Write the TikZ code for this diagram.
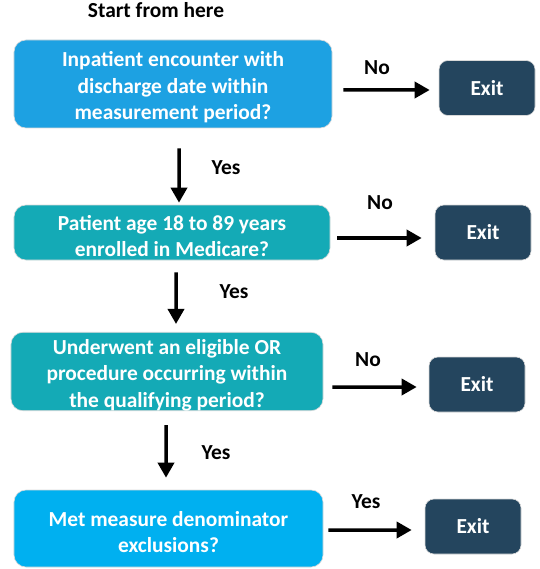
\documentclass[tikz,border=0pt]{standalone}
\usepackage{fontspec}
\setmainfont{Carlito}
\usetikzlibrary{arrows.meta}
\definecolor{boxA}{RGB}{29,161,226}
\definecolor{boxB}{RGB}{20,170,182}
\definecolor{boxC}{RGB}{0,176,240}
\definecolor{exitc}{RGB}{36,69,94}
\newcommand{\tallline}{\rule{0pt}{22bp}}
\tikzset{
  x=1bp, y=-1bp,
  qbox/.style={rectangle, rounded corners=12bp, draw=white!85!black, line width=0.6bp,
    text=white, align=center, inner sep=0pt,
    font=\bfseries\fontsize{21.5}{26.5}\selectfont},
  exitbox/.style={qbox, fill=exitc, minimum width=96bp, minimum height=55bp, rounded corners=9bp},
  lbl/.style={font=\bfseries\fontsize{21.5}{24}\selectfont, text=black, inner sep=0pt},
  arr/.style={line width=3.5bp, -{Triangle[length=15bp,width=16bp]}}
}
\begin{document}
\begin{tikzpicture}
\useasboundingbox (0,0) rectangle (540,569);
\node[lbl] (start) at (156,10) {Start from here};

\node[qbox, fill=boxA, minimum width=318bp, minimum height=88bp] (b1) at (173,84)
  {\tallline Inpatient encounter with\\discharge date within\\measurement period?};
\node[exitbox] (e1) at (487,88) {Exit};

\node[qbox, fill=boxB, minimum width=316bp, minimum height=55bp] (b2) at (172,232.5)
  {\tallline Patient age 18 to 89 years\\enrolled in Medicare?};
\node[exitbox] (e2) at (483,232.5) {Exit};

\node[qbox, fill=boxB, minimum width=312bp, minimum height=77bp] (b3) at (167,371.5)
  {\tallline Underwent an eligible OR\\procedure occurring within\\the qualifying period?};
\node[exitbox] (e3) at (477,384.5) {Exit};

\node[qbox, fill=boxC, minimum width=309bp, minimum height=77bp] (b4) at (168.5,528.5)
  {\tallline Met measure denominator\\exclusions?};
\node[exitbox] (e4) at (473,526.5) {Exit};

% horizontal arrows
\draw[arr] ([xshift=11bp,yshift=-6bp]b1.east) -- ([xshift=-9bp,yshift=-2bp]e1.west);
\draw[arr] ([xshift=7bp,yshift=-5.5bp]b2.east) -- ([xshift=-13bp,yshift=-5.5bp]e2.west);
\draw[arr] ([xshift=9bp,yshift=-15.5bp]b3.east) -- ([xshift=-12bp,yshift=-2.5bp]e3.west);
\draw[arr] ([xshift=5bp,yshift=-1.5bp]b4.east) -- ([xshift=-13bp,yshift=-3.5bp]e4.west);

% vertical arrows
\draw[arr] ([xshift=6bp,yshift=-20bp]b1.south) -- ([xshift=7bp,yshift=2bp]b2.north);
\draw[arr] ([xshift=4bp,yshift=-12bp]b2.south) -- ([xshift=9bp,yshift=8bp]b3.north);
\draw[arr] ([xshift=-1bp,yshift=-14bp]b3.south) -- ([xshift=-2.5bp,yshift=12bp]b4.north);

% labels
\node[lbl] (n1) at (377,68) {No};
\node[lbl] (y1) at (226,168) {Yes};
\node[lbl] (n2) at (380,203) {No};
\node[lbl] (y2) at (234,292) {Yes};
\node[lbl] (n3) at (368,360) {No};
\node[lbl] (y3) at (216,453) {Yes};
\node[lbl] (y4) at (366,502) {Yes};
\end{tikzpicture}
\end{document}
